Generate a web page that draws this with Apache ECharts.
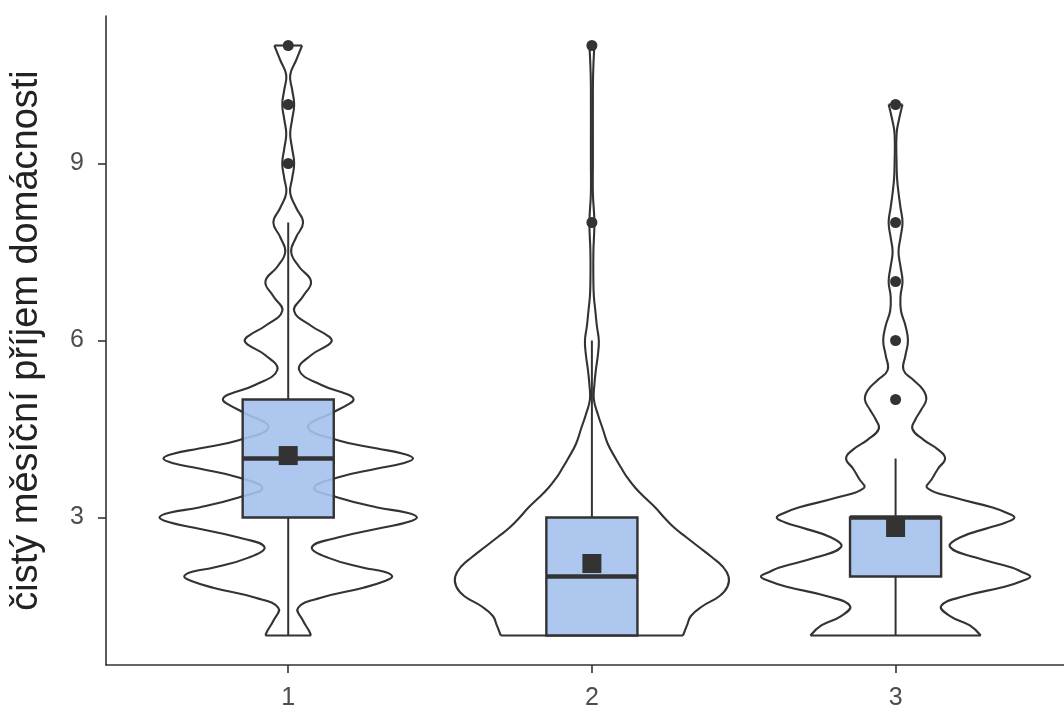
<!DOCTYPE html>
<html><head><meta charset="utf-8">
<script src="https://cdn.jsdelivr.net/npm/echarts@6/dist/echarts.min.js"></script>
<style>html,body{margin:0;padding:0;background:#fff}#c{width:1064px;height:711px}</style>
</head><body><div id="c"></div>
<script>
// ---- data ----
const categories = ['1', '2', '3'];
const yTicks = [3, 6, 9];

// violin outlines: y values and relative density (half-width)
const violin1Y = [1, 1.08, 1.25, 1.47, 1.64, 1.81, 1.92, 2, 2.08, 2.15, 2.32, 2.5, 2.66, 2.83, 2.92, 3, 3.08, 3.17, 3.34, 3.5, 3.68, 3.83, 3.92, 4, 4.08, 4.17, 4.31, 4.53, 4.78, 4.92, 5, 5.08, 5.25, 5.5, 5.75, 5.92, 6, 6.08, 6.25, 6.5, 6.75, 7, 7.25, 7.5, 7.75, 8, 8.25, 8.5, 8.75, 9, 9.25, 9.5, 9.75, 10, 10.25, 10.5, 10.75, 11];
const violin1W = [23, 21, 15, 10, 33, 76, 97, 105, 97, 76, 40, 24, 50, 96, 120, 130, 120, 90, 50, 26, 50, 90, 116, 126, 116, 90, 50, 20, 45, 61, 66, 61, 33, 11, 23, 40, 44, 40, 23, 6, 15, 23, 11, 3, 8, 15, 8, 2, 4, 6, 4, 2, 4, 6, 4, 2, 8, 14];

const violin2Y = [1, 1.17, 1.33, 1.5, 1.67, 1.83, 2, 2.17, 2.33, 2.5, 2.67, 2.83, 3, 3.17, 3.33, 3.5, 3.67, 3.83, 4, 4.25, 4.5, 4.75, 5, 5.25, 5.5, 5.75, 6, 6.25, 6.5, 6.75, 7, 7.5, 8, 8.5, 9, 9.5, 10, 10.5, 11];
const violin2W = [92, 96, 100, 112, 129, 137, 138, 132, 121, 108, 95, 83, 73, 64, 54, 44, 36, 30, 24, 16, 11, 6, 2, 2.5, 4, 6, 7, 5, 3.5, 2, 1.5, 1.5, 2.5, 1, 1, 1, 1, 1.2, 2.5];

const violin3Y = [1, 1.17, 1.33, 1.5, 1.66, 1.83, 1.92, 2, 2.08, 2.15, 2.32, 2.5, 2.66, 2.83, 2.92, 3, 3.08, 3.17, 3.33, 3.5, 3.66, 3.83, 4, 4.15, 4.32, 4.5, 4.66, 4.83, 5, 5.16, 5.33, 5.5, 5.75, 6, 6.25, 6.5, 6.75, 7, 7.25, 7.5, 7.75, 8, 8.25, 8.5, 8.75, 9, 9.5, 9.75, 10];
const violin3W = [86, 75, 55, 46, 68, 111, 127, 136, 127, 118, 81, 55, 65, 95, 112, 120, 112, 98, 61, 32, 37, 43, 50, 43, 28, 17, 20, 26, 31, 28, 18, 8, 10, 12.5, 10, 5.5, 5, 7, 5, 3, 5, 7, 5, 3, 1.5, 1, 1, 3.5, 7];

// box plot statistics
const whiskerLow  = [1, 1, 1];
const boxQ1       = [3, 1, 2];
const boxMedian   = [4, 2, 3];
const boxQ3       = [5, 3, 3];
const whiskerHigh = [8, 6, 4];
const means       = [4.05, 2.22, 2.83];
const outliers1 = [9, 10, 11];
const outliers2 = [8, 11];
const outliers3 = [5, 6, 7, 8, 10];

// ---- chart ----
const violinsY = [violin1Y, violin2Y, violin3Y];
const violinsW = [violin1W, violin2W, violin3W];
const outliers = [outliers1, outliers2, outliers3];
const maxW = Math.max(...violinsW.flat());
const violinHalf = 0.45;   // max half-width in category units
const boxHalf = 0.15;
const FONT = '"Liberation Sans", Arial, Helvetica, sans-serif';
const INK = '#333333';

const catData = categories.map((c, i) => [i + 1, boxMedian[i]]);

const chart = echarts.init(document.getElementById('c'), null, {renderer: 'canvas'});
chart.setOption({
  animation: false,
  backgroundColor: '#ffffff',
  grid: {left: 105, right: 0, top: 16, bottom: 46},
  xAxis: {
    type: 'value', min: 0.4, max: 3.5546,
    axisLine: {show: true, lineStyle: {color: INK, width: 1.6}},
    axisTick: {show: true, customValues: [1, 2, 3], length: 8, lineStyle: {color: INK, width: 1.6}},
    axisLabel: {customValues: [1, 2, 3], formatter: v => categories[Math.round(v) - 1], color: '#4d4d4d', fontSize: 25, fontFamily: FONT, margin: 21},
    splitLine: {show: false}
  },
  yAxis: {
    type: 'value', min: 0.5, max: 11.5,
    name: 'čistý měsíční příjem domácnosti',
    nameLocation: 'middle', nameRotate: 90, nameGap: 60,
    nameTextStyle: {fontSize: 38, color: '#222', fontFamily: FONT},
    axisLine: {show: true, lineStyle: {color: INK, width: 1.6}},
    axisTick: {show: true, customValues: yTicks, length: 8, lineStyle: {color: INK, width: 1.6}},
    axisLabel: {customValues: yTicks, color: '#4d4d4d', fontSize: 25, fontFamily: FONT, margin: 22},
    splitLine: {show: false}
  },
  series: [
    {
      type: 'custom', z: 1, silent: true,
      data: catData,
      renderItem: function (params, api) {
        const i = params.dataIndex;
        const xc = i + 1;
        const ys = violinsY[i], ws = violinsW[i];
        const s = violinHalf / maxW;
        const right = ys.map((y, k) => api.coord([xc + ws[k] * s, y]));
        const left = ys.map((y, k) => api.coord([xc - ws[k] * s, y]));
        const n = ys.length - 1;
        const st = {stroke: INK, lineWidth: 2.1, fill: null};
        return {
          type: 'group',
          children: [
            {type: 'polyline', shape: {points: right, smooth: 0.45}, style: st},
            {type: 'polyline', shape: {points: left, smooth: 0.45}, style: st},
            {type: 'line', shape: {x1: left[0][0], y1: left[0][1], x2: right[0][0], y2: right[0][1]}, style: {stroke: INK, lineWidth: 2.1}},
            {type: 'line', shape: {x1: left[n][0], y1: left[n][1], x2: right[n][0], y2: right[n][1]}, style: {stroke: INK, lineWidth: 2.1}}
          ]
        };
      }
    },
    {
      type: 'custom', z: 2, silent: true,
      data: catData,
      renderItem: function (params, api) {
        const i = params.dataIndex;
        const xc = i + 1;
        const pLow = api.coord([xc, whiskerLow[i]]);
        const pQ1 = api.coord([xc, boxQ1[i]]);
        const pQ3 = api.coord([xc, boxQ3[i]]);
        const pHigh = api.coord([xc, whiskerHigh[i]]);
        const bl = api.coord([xc - boxHalf, boxQ3[i]]);
        const br = api.coord([xc + boxHalf, boxQ1[i]]);
        const ml = api.coord([xc - boxHalf, boxMedian[i]]);
        const mr = api.coord([xc + boxHalf, boxMedian[i]]);
        const children = [];
        if (whiskerLow[i] < boxQ1[i]) children.push({type: 'line', shape: {x1: pLow[0], y1: pLow[1], x2: pQ1[0], y2: pQ1[1]}, style: {stroke: INK, lineWidth: 2}});
        if (whiskerHigh[i] > boxQ3[i]) children.push({type: 'line', shape: {x1: pQ3[0], y1: pQ3[1], x2: pHigh[0], y2: pHigh[1]}, style: {stroke: INK, lineWidth: 2}});
        children.push({type: 'rect', shape: {x: bl[0], y: bl[1], width: br[0] - bl[0], height: br[1] - bl[1]}, style: {fill: 'rgba(164,193,237,0.9)', stroke: INK, lineWidth: 2.4}});
        children.push({type: 'line', shape: {x1: ml[0], y1: ml[1], x2: mr[0], y2: mr[1]}, style: {stroke: INK, lineWidth: 4.5}});
        return {type: 'group', children};
      }
    },
    {
      type: 'scatter', z: 3, silent: true,
      symbol: 'rect', symbolSize: 19,
      itemStyle: {color: INK, opacity: 1},
      data: categories.map((c, i) => [i + 1, means[i]])
    },
    {
      type: 'scatter', z: 4, silent: true,
      symbol: 'circle', symbolSize: 11,
      itemStyle: {color: INK, opacity: 1},
      data: outliers.flatMap((arr, i) => arr.map(v => [i + 1, v]))
    }
  ]
});
</script>
</body></html>
